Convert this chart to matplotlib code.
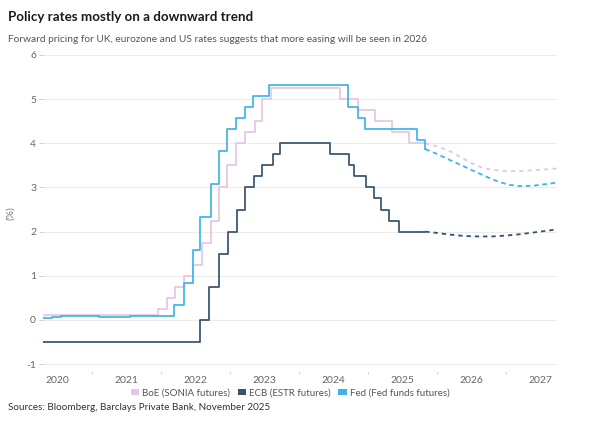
"""Policy rates chart: BoE, ECB and Fed with forward pricing."""

import matplotlib as mpl
import matplotlib.pyplot as plt
from matplotlib.patches import Patch

INK = "#1A1A1A"
MUTED = "#555555"
GRID = "#ECECEC"

BOE_C = "#E4C6E2"
ECB_C = "#35536F"
FED_C = "#3DB5E6"

# step series: decimal year of each change, level after the change
boe_x = [2020.29, 2021.96, 2022.09, 2022.21, 2022.34, 2022.46, 2022.59, 2022.73,
         2022.84, 2022.96, 2023.09, 2023.22, 2023.36, 2023.47, 2023.59, 2024.59,
         2024.85, 2025.10, 2025.35, 2025.59, 2025.83]
boe_y = [0.10, 0.25, 0.50, 0.75, 1.00, 1.25, 1.75, 2.25,
         3.00, 3.50, 4.00, 4.25, 4.50, 5.00, 5.25, 5.00,
         4.75, 4.50, 4.25, 4.00, 4.00]

ecb_x = [2020.29, 2022.57, 2022.70, 2022.84, 2022.97, 2023.10, 2023.22, 2023.35,
         2023.47, 2023.62, 2023.72, 2024.45, 2024.72, 2024.80, 2024.97, 2025.09,
         2025.19, 2025.31, 2025.45, 2025.83]
ecb_y = [-0.50, 0.00, 0.75, 1.50, 2.00, 2.50, 3.00, 3.25,
         3.50, 3.75, 4.00, 3.75, 3.50, 3.25, 3.00, 2.75,
         2.50, 2.25, 2.00, 2.00]

fed_x = [2020.29, 2020.42, 2020.55, 2020.90, 2021.10, 2021.30, 2021.45, 2021.55,
         2022.19, 2022.34, 2022.46, 2022.57, 2022.72, 2022.84, 2022.96, 2023.09,
         2023.22, 2023.34, 2023.56, 2024.71, 2024.85, 2024.96, 2025.71, 2025.83]
fed_y = [0.05, 0.07, 0.09, 0.08, 0.07, 0.06, 0.07, 0.08,
         0.33, 0.83, 1.58, 2.33, 3.08, 3.83, 4.33, 4.58,
         4.83, 5.08, 5.33, 4.83, 4.58, 4.33, 4.08, 3.87]

# forward pricing
boe_fwd_x = [2025.83, 2026.00, 2026.19, 2026.35, 2026.50, 2026.65, 2026.80,
             2027.00, 2027.20, 2027.40, 2027.74]
boe_fwd_y = [4.00, 3.93, 3.82, 3.68, 3.55, 3.45, 3.40, 3.37, 3.37, 3.39, 3.43]

ecb_fwd_x = [2025.83, 2026.00, 2026.20, 2026.40, 2026.60, 2026.80, 2027.00,
             2027.20, 2027.45, 2027.74]
ecb_fwd_y = [2.00, 1.97, 1.93, 1.90, 1.89, 1.89, 1.91, 1.94, 1.99, 2.05]

fed_fwd_x = [2025.83, 2026.00, 2026.19, 2026.40, 2026.58, 2026.75, 2026.91,
             2027.05, 2027.20, 2027.40, 2027.55, 2027.74]
fed_fwd_y = [3.87, 3.76, 3.62, 3.47, 3.34, 3.22, 3.12, 3.06, 3.03, 3.04, 3.07, 3.11]

years = [2020, 2021, 2022, 2023, 2024, 2025, 2026, 2027]
y_ticks = [-1, 0, 1, 2, 3, 4, 5, 6]

mpl.rcParams.update(
    {
        "font.family": ["Lato", "DejaVu Sans"],
        "font.size": 7.5,
        "figure.facecolor": "white",
    }
)


def draw():
    fig = plt.figure(figsize=(6.02, 4.21), dpi=100)
    ax = fig.add_axes([43 / 602, 1 - 372 / 421, (557 - 43) / 602, (372 - 55) / 421])
    ax.set_xlim(2020.29, 2027.74)
    ax.set_ylim(-1.18, 6.0)

    for s in ax.spines.values():
        s.set_visible(False)
    for v in y_ticks:
        ax.axhline(v, color=GRID, lw=0.8, zorder=0)

    ax.step(boe_x, boe_y, where="post", color=BOE_C, lw=1.25, zorder=2)
    ax.step(fed_x, fed_y, where="post", color=FED_C, lw=1.25, zorder=3)
    ax.step(ecb_x, ecb_y, where="post", color=ECB_C, lw=1.25, zorder=4)

    ax.plot(boe_fwd_x, boe_fwd_y, color=BOE_C, lw=1.3, dashes=(2.2, 2.4), zorder=2)
    ax.plot(fed_fwd_x, fed_fwd_y, color=FED_C, lw=1.3, dashes=(2.6, 2.0), zorder=3)
    ax.plot(ecb_fwd_x, ecb_fwd_y, color=ECB_C, lw=1.3, dashes=(2.4, 2.2), zorder=4)

    ax.set_yticks(y_ticks)
    ax.set_yticklabels([str(v) for v in y_ticks])
    ax.tick_params(axis="y", length=3, width=0.6, color="#C8C8C8",
                   labelcolor="#666666", labelsize=7.5, pad=2)

    ax.set_xticks([y + 1 for y in years[:-1]])
    ax.set_xticklabels([])
    ax.tick_params(axis="x", which="major", length=1.5, width=0.8,
                   color="#C8C8C8", pad=2)
    ax.set_xticks([y + 0.5 for y in years], minor=True)
    ax.set_xticklabels([str(y) for y in years], minor=True)
    ax.tick_params(axis="x", which="minor", length=0, labelcolor="#666666",
                   labelsize=7.5, pad=3)

    ax.set_ylabel("(%)", color="#777777", fontsize=7.5, labelpad=8)

    handles = [
        Patch(facecolor=BOE_C, edgecolor="none", label="BoE (SONIA futures)"),
        Patch(facecolor=ECB_C, edgecolor="none", label="ECB (ESTR futures)"),
        Patch(facecolor=FED_C, edgecolor="none", label="Fed (Fed funds futures)"),
    ]
    fig.legend(handles=handles, loc="center", bbox_to_anchor=(290 / 602, 1 - 393 / 421),
               ncol=3, frameon=False, fontsize=7.0, handlelength=0.9,
               handleheight=0.45, handletextpad=0.25, columnspacing=0.8,
               labelcolor="#555555")

    fig.text(8 / 602, 1 - 17 / 421, "Policy rates mostly on a downward trend",
             fontsize=9.6, fontweight="bold", color=INK, ha="left", va="center")
    fig.text(8 / 602, 1 - 40 / 421,
             "Forward pricing for UK, eurozone and US rates suggests that more easing will be seen in 2026",
             fontsize=7.3, color=MUTED, ha="left", va="center")
    fig.text(8 / 602, 1 - 408 / 421, "Sources: Bloomberg, Barclays Private Bank, November 2025",
             fontsize=7.1, color="#333333", ha="left", va="center")

    fig.savefig("out.png", dpi=100)
    plt.close(fig)


if __name__ == "__main__":
    draw()
